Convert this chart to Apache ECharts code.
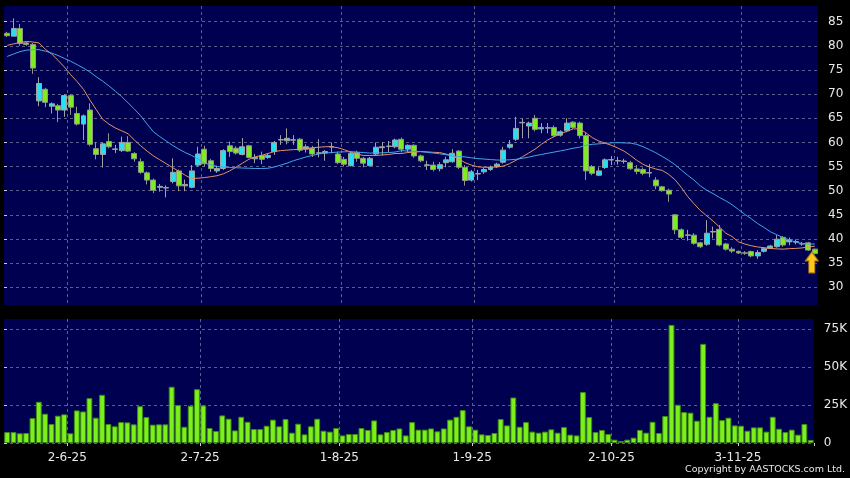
<!DOCTYPE html>
<html>
<head>
<meta charset="utf-8">
<script src="https://cdn.jsdelivr.net/npm/echarts@6/dist/echarts.min.js"></script>
<style>html,body{margin:0;padding:0;background:#000;}#c{width:850px;height:478px;}</style>
</head>
<body>
<div id="c"></div>
<script>
const dates = [
'19-5-25','20-5-25','21-5-25','22-5-25','23-5-25','26-5-25','27-5-25','28-5-25','29-5-25','30-5-25',
'2-6-25','3-6-25','4-6-25','5-6-25','6-6-25','9-6-25','10-6-25','11-6-25','12-6-25','13-6-25','16-6-25','17-6-25','18-6-25','19-6-25','20-6-25','23-6-25','24-6-25','25-6-25','26-6-25','27-6-25','30-6-25',
'2-7-25','3-7-25','4-7-25','7-7-25','8-7-25','9-7-25','10-7-25','11-7-25','14-7-25','15-7-25','16-7-25','17-7-25','18-7-25','21-7-25','22-7-25','23-7-25','24-7-25','25-7-25','28-7-25','29-7-25','30-7-25','31-7-25',
'1-8-25','4-8-25','5-8-25','6-8-25','7-8-25','8-8-25','11-8-25','12-8-25','13-8-25','14-8-25','15-8-25','18-8-25','19-8-25','20-8-25','21-8-25','22-8-25','25-8-25','26-8-25','27-8-25','28-8-25','29-8-25',
'1-9-25','2-9-25','3-9-25','4-9-25','5-9-25','8-9-25','9-9-25','10-9-25','11-9-25','12-9-25','15-9-25','16-9-25','17-9-25','18-9-25','19-9-25','22-9-25','23-9-25','24-9-25','25-9-25','26-9-25','29-9-25','30-9-25',
'2-10-25','3-10-25','6-10-25','8-10-25','9-10-25','10-10-25','13-10-25','14-10-25','15-10-25','16-10-25','17-10-25','20-10-25','21-10-25','22-10-25','23-10-25','24-10-25','27-10-25','28-10-25','30-10-25','31-10-25',
'3-11-25','4-11-25','5-11-25','6-11-25','7-11-25','10-11-25','11-11-25','12-11-25','13-11-25','14-11-25','17-11-25','18-11-25'
];

// [open, close, low, high]
const candles = [
[82.6,82.1,81.8,82.9],[82.0,83.6,82.0,85.7],[83.6,80.5,80.0,84.5],[80.6,80.3,80.0,80.8],[80.3,75.4,74.2,80.6],
[68.6,72.2,67.5,73.5],[71.0,68.3,67.3,71.3],[67.5,68.0,66.0,68.3],[67.6,66.7,64.2,68.0],[66.7,69.7,65.3,70.0],
[69.7,67.3,65.7,70.0],[66.0,63.8,63.5,67.4],[63.8,65.5,60.5,65.8],[66.7,59.6,59.2,68.1],[58.7,57.5,56.5,60.0],
[57.5,59.7,54.8,60.0],[60.2,59.1,58.8,61.9],[58.55,58.65,57.8,59.5],[58.3,60.0,58.0,61.2],[60.0,58.2,58.0,61.3],
[57.7,56.6,56.0,58.0],[56.0,53.8,53.5,56.7],[53.7,52.2,51.3,54.0],[52.2,50.1,49.5,52.5],[50.7,50.9,49.8,51.4],
[50.55,50.65,48.6,51.1],[51.9,53.8,51.5,56.7],[54.1,51.0,49.9,54.4],[51.0,51.3,49.9,52.3],[50.7,54.1,50.5,55.3],
[55.3,57.6,55.0,59.1],[58.6,55.6,55.0,59.3],[56.2,54.6,53.9,56.6],[54.1,54.6,53.7,55.2],[54.6,58.3,54.3,58.6],
[59.3,58.1,57.0,60.2],[58.8,57.8,57.5,59.2],[57.5,59.1,57.3,60.9],[59.3,56.9,56.7,59.5],[56.6,56.9,55.7,57.6],
[57.3,56.5,55.5,58.1],[56.9,57.3,56.6,57.8],[58.1,60.0,57.4,60.3],[60.5,60.6,59.5,61.5],[60.35,60.85,59.6,62.9],
[60.45,60.55,59.5,61.5],[60.65,58.4,58.0,60.9],[58.6,59.1,57.9,59.6],[58.8,57.6,57.0,59.3],[57.75,57.85,56.9,60.65],
[57.8,58.1,56.2,58.4],[59.05,59.15,57.75,60.0],[57.6,55.8,55.5,58.1],[56.5,55.5,55.0,57.0],[55.2,57.75,55.0,58.2],
[57.9,56.7,56.0,58.3],[56.7,55.7,54.85,57.0],[55.2,56.7,55.0,57.0],[57.6,59.0,57.4,60.0],[58.9,59.1,57.3,60.1],
[59.15,59.25,58.0,60.3],[59.1,60.5,58.8,60.8],[60.65,58.6,57.9,61.0],[58.6,59.4,57.9,59.6],[59.4,57.2,56.8,59.6],
[57.2,56.2,55.9,57.5],[55.25,55.35,54.3,56.2],[55.3,54.4,54.0,56.0],[54.55,55.4,54.0,55.9],[55.8,56.4,54.85,57.05],
[56.0,57.75,55.8,58.6],[58.2,54.85,54.5,58.4],[54.8,52.1,51.05,55.3],[52.2,53.9,51.9,54.3],[53.45,53.55,52.2,54.3],
[53.9,54.4,53.5,54.8],[54.4,54.85,54.1,55.2],[55.0,55.5,54.7,55.8],[55.9,58.4,55.6,59.1],[59.0,59.6,58.7,60.5],
[60.65,62.9,60.3,65.3],[64.05,64.15,60.85,65.0],[63.4,64.0,60.85,64.3],[65.0,62.7,62.3,65.7],[62.8,63.1,61.9,64.0],
[62.95,63.05,61.9,64.0],[63.1,61.4,61.1,63.5],[61.5,62.2,61.2,62.5],[62.4,64.0,62.1,65.0],[64.2,63.1,62.8,64.4],
[64.0,61.4,60.8,64.3],[61.4,54.1,52.2,62.0],[55.0,53.6,53.2,55.3],[53.2,54.1,53.0,54.85],[54.8,56.4,54.5,56.7],
[56.35,56.45,55.3,57.2],[56.15,56.25,55.4,57.0],[56.05,56.15,55.6,56.6],[55.8,54.55,54.3,56.2],[54.5,54.0,53.4,55.3],
[54.4,53.6,53.2,54.8],[53.65,53.75,52.8,55.5],[52.2,51.0,50.3,52.8],[50.8,50.0,49.8,51.0],[50.1,49.3,47.7,50.4],
[45.0,41.9,41.0,45.1],[41.9,40.35,40.0,42.2],[40.75,40.85,39.65,41.9],[40.8,39.1,38.8,41.2],[39.2,38.4,38.1,39.4],
[38.9,41.2,38.6,43.9],[41.45,41.55,40.15,42.55],[42.0,38.75,38.5,42.9],[38.97,37.9,37.6,39.2],[37.9,37.5,37.1,38.3],
[37.45,37.1,36.9,37.6],[37.15,37.05,36.7,37.5],[37.4,36.5,36.2,37.6],[36.5,37.2,35.9,37.7],[37.45,38.0,37.2,38.3],
[38.07,38.55,37.9,38.8],[38.4,39.95,38.2,40.8],[40.35,38.75,38.4,40.6],[39.4,39.8,38.7,40.3],[39.35,39.45,38.9,39.9],
[38.95,39.05,38.6,39.4],[39.2,37.7,37.5,39.4],[37.9,37.0,36.8,38.0]
];

// volume in thousands
const volumes = [
7.2,7.2,6.4,6.6,16.4,27.2,19.3,12.5,18.0,18.9,
6.4,21.5,20.8,29.6,16.7,31.8,12.5,11.0,13.8,13.6,
12.3,24.3,17.1,12.1,12.3,12.3,37.1,25.0,10.7,24.6,
35.5,24.8,9.9,7.9,18.2,16.0,8.3,17.3,14.0,9.2,
9.2,11.4,15.4,11.0,15.8,6.8,12.7,5.7,11.0,16.0,
8.1,7.5,9.9,5.0,5.9,5.9,9.9,8.6,14.9,5.7,
7.2,8.6,9.6,5.0,13.8,8.8,8.8,9.6,7.7,9.6,
15.4,17.3,21.7,11.0,8.8,5.7,5.3,6.6,15.8,11.6,
30.0,10.7,13.8,7.5,6.8,7.5,9.0,6.8,10.5,5.5,
5.0,33.6,17.1,7.2,8.6,5.9,2.2,1.3,2.2,3.5,
8.6,6.8,14.0,6.6,17.8,77.9,25.2,20.4,20.0,14.7,
65.4,17.3,26.3,15.1,16.7,11.6,11.4,8.1,10.3,10.3,
7.5,17.3,9.4,7.2,8.8,5.5,12.5,2.0
];

const ma10 = [
80.1,80.4,80.7,80.9,80.8,80.6,79.3,78.3,77.0,75.6,
74.0,72.6,71.0,68.8,66.8,64.8,63.8,63.0,62.4,61.8,
60.5,59.3,58.2,57.2,56.4,55.6,54.8,54.0,53.2,52.5,
52.6,52.7,52.9,53.1,53.5,54.1,54.9,55.7,56.5,57.0,
57.3,57.7,58.1,58.3,58.4,58.5,58.6,58.7,58.9,59.0,
59.1,59.1,58.9,58.5,58.0,57.6,57.3,57.3,57.3,57.4,
57.5,57.7,57.7,57.9,58.0,58.1,58.05,57.95,57.9,57.6,
57.2,56.6,55.8,55.3,54.95,54.85,54.85,54.9,55.1,55.6,
56.3,57.0,57.8,58.6,59.6,60.5,61.2,61.75,62.3,62.8,
62.8,62.0,61.0,60.3,59.85,59.4,58.85,58.2,57.3,56.3,
55.45,54.9,54.5,54.2,53.4,52.3,50.7,48.8,47.3,45.9,
44.8,43.7,42.5,41.2,40.5,39.4,38.95,38.6,38.35,38.2,
38.05,37.95,37.9,38.0,38.05,38.15,38.4,38.5
];

const ma20 = [
77.8,78.3,78.8,79.1,79.2,79.2,78.9,78.5,78.0,77.4,
76.8,76.1,75.4,74.6,73.6,72.7,71.7,70.6,69.5,68.2,
66.9,65.5,63.8,62.2,61.2,60.3,59.4,58.6,57.9,57.3,
56.6,55.7,55.4,55.0,54.9,54.8,54.75,54.7,54.65,54.6,
54.6,54.65,54.9,55.3,55.7,56.2,56.6,57.0,57.3,57.6,
57.8,57.9,58.0,58.05,58.1,58.0,57.9,57.8,57.8,57.85,
57.9,58.0,58.3,58.2,58.15,58.1,57.95,57.8,57.65,57.45,
57.2,57.1,57.0,56.8,56.65,56.55,56.45,56.35,56.35,56.4,
56.5,56.7,56.95,57.25,57.5,57.75,58.0,58.25,58.5,58.8,
59.0,59.4,59.6,59.7,59.8,59.9,59.95,59.9,59.85,59.6,
59.1,58.5,57.85,57.1,56.3,55.4,54.3,53.2,52.2,51.0,
50.1,49.4,48.6,47.9,47.1,46.1,45.1,44.2,43.2,42.4,
41.5,40.9,40.3,39.8,39.35,39.05,38.97,38.95
];

const priceTicks = [30,35,40,45,50,55,60,65,70,75,80,85];
const volTicks = [0,25,50,75];
const copyright = 'Copyright by AASTOCKS.com Ltd.';

const monthStarts = [];
dates.forEach((d, i) => {
  if (i > 0 && d.split('-')[1] !== dates[i-1].split('-')[1]) monthStarts.push(i);
});
const monthSet = new Set(monthStarts);
const isMonthStart = (i) => monthSet.has(i);

const FONT = 'DejaVu Sans';
const TXT = '#e8e8e8';
const GRIDLINE = {show: true, lineStyle: {color: '#5e5e8e', width: 1, type: [3, 3]}};
const lastIdx = candles.length - 1;

// hidden value axes spanning the category bands, used only for the vertical month gridlines
function monthGridAxis(gridIndex) {
  return {type: 'value', gridIndex: gridIndex, min: 0, max: dates.length, position: 'top',
    axisLine: {show: false}, axisLabel: {show: false},
    axisTick: {show: false, customValues: monthStarts},
    splitLine: GRIDLINE};
}

const chart = echarts.init(document.getElementById('c'), null, {renderer: 'canvas'});
chart.setOption({
  animation: false,
  backgroundColor: '#000000',
  title: {
    text: copyright, right: 5, top: 465, padding: 0,
    textStyle: {color: TXT, fontSize: 9.5, fontWeight: 'normal', fontFamily: FONT}
  },
  grid: [
    {left: 4, right: 32, top: 6, height: 299, show: true, backgroundColor: '#000050', borderWidth: 0},
    {left: 4, right: 32, top: 319, height: 124, show: true, backgroundColor: '#000050', borderWidth: 0}
  ],
  xAxis: [
    {type: 'category', gridIndex: 0, data: dates, boundaryGap: true,
     axisLine: {show: false}, axisTick: {show: false}, axisLabel: {show: false},
     splitLine: {show: false}},
    {type: 'category', gridIndex: 1, data: dates, boundaryGap: true, offset: 3.4,
     axisLine: {show: false},
     axisTick: {show: true, interval: isMonthStart, length: 3, lineStyle: {color: '#cfcfcf'}},
     axisLabel: {show: true, interval: isMonthStart, margin: 5,
       formatter: (v) => '{a|' + v + '}',
       rich: {a: {padding: [0, 6.4, 0, 0], color: TXT, fontSize: 12, fontFamily: FONT}}},
     splitLine: {show: false}},
    monthGridAxis(0),
    monthGridAxis(1)
  ],
  yAxis: [
    {type: 'value', gridIndex: 0, position: 'right', min: 26.33, max: 88.25, offset: 4,
     axisLine: {show: false},
     axisTick: {show: true, length: 3, customValues: priceTicks, lineStyle: {color: '#cfcfcf'}},
     axisLabel: {show: true, customValues: priceTicks, margin: 6, color: TXT, fontSize: 12, fontFamily: FONT},
     splitLine: GRIDLINE},
    {type: 'value', gridIndex: 1, position: 'right', min: 0, max: 81.8, offset: 4,
     axisLine: {show: false},
     axisTick: {show: true, length: 3, customValues: volTicks, lineStyle: {color: '#cfcfcf'}},
     axisLabel: {show: true, customValues: volTicks, margin: 6, color: TXT, fontSize: 12, fontFamily: FONT,
       formatter: (v) => v === 0 ? '0' : v + 'K'},
     splitLine: GRIDLINE}
  ],
  series: [
    {type: 'candlestick', xAxisIndex: 0, yAxisIndex: 0, data: candles, barWidth: '86%',
     itemStyle: {color: '#26dff0', color0: '#7eec20', borderColor: '#a2a2a2', borderColor0: '#8f9a84', borderWidth: 1},
     markPoint: {
       silent: true,
       label: {show: false},
       data: [{coord: [lastIdx, 35.15],
         symbol: 'path://M6.5,0 L13,9 L9.5,9 L9.5,21 L3.5,21 L3.5,9 L0,9 Z',
         symbolSize: [13, 21], symbolOffset: [-3, 0],
         itemStyle: {color: '#fcc820', borderColor: '#b07a00', borderWidth: 1}}]
     }},
    {type: 'line', xAxisIndex: 0, yAxisIndex: 0, data: ma10, symbol: 'none', smooth: false,
     lineStyle: {color: '#e4926a', width: 1}, z: 3},
    {type: 'line', xAxisIndex: 0, yAxisIndex: 0, data: ma20, symbol: 'none', smooth: false,
     lineStyle: {color: '#42a6ea', width: 1}, z: 3},
    {type: 'bar', xAxisIndex: 1, yAxisIndex: 1, data: volumes, barCategoryGap: '8%',
     itemStyle: {color: '#7cf01c', borderColor: '#3f8c12', borderWidth: 1}}
  ]
});
</script>
</body>
</html>
